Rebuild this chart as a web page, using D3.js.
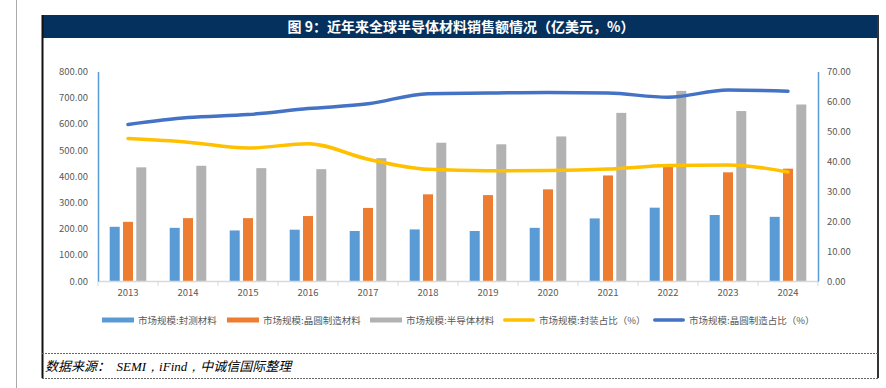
<!DOCTYPE html>
<html>
<head>
<meta charset="utf-8">
<script src="https://cdn.jsdelivr.net/npm/d3@7"></script>
<style>
  body { margin: 0; background: #fff; }
  svg text { font-family: "Noto Sans CJK SC", "DejaVu Sans", sans-serif; }
</style>
</head>
<body>
<div id="chart"></div>
<script>
var years = ["2013","2014","2015","2016","2017","2018","2019","2020","2021","2022","2023","2024"];
var packaging = [207, 203, 193, 196, 191, 197, 191, 203, 239, 280, 252, 245];
var wafer = [226, 240, 240, 248, 279, 331, 328, 350, 403, 445, 415, 429];
var total = [434, 440, 431, 427, 469, 528, 522, 552, 642, 726, 649, 674];
var packShare = [47.6, 46.4, 44.4, 45.9, 40.7, 37.3, 36.8, 36.9, 37.4, 38.6, 38.8, 36.4];
var waferShare = [52.3, 54.6, 55.6, 57.6, 59.2, 62.6, 62.8, 63.0, 62.8, 61.4, 63.8, 63.4];
var leftTicks = [0, 100, 200, 300, 400, 500, 600, 700, 800];
var rightTicks = [0, 10, 20, 30, 40, 50, 60, 70];

var title = "图 9：近年来全球半导体材料销售额情况（亿美元，%）";
var sourceParts = ["数据来源：", "  SEMI，iFind，", "中诚信国际整理"];

var W = 886, H = 388;
var svg = d3.select("#chart").append("svg")
  .attr("width", W).attr("height", H);

// page frame
svg.append("line").attr("x1", 16.5).attr("x2", 16.5).attr("y1", 0).attr("y2", H)
  .attr("stroke", "#aaa").attr("stroke-width", 1);
svg.append("rect").attr("x", 42).attr("y", 15).attr("width", 836).attr("height", 23)
  .attr("fill", "#05315f");
svg.append("line").attr("x1", 42.5).attr("x2", 42.5).attr("y1", 15).attr("y2", 378)
  .attr("stroke", "#111").attr("stroke-width", 2);
svg.append("line").attr("x1", 878).attr("x2", 878).attr("y1", 15).attr("y2", 378)
  .attr("stroke", "#333").attr("stroke-width", 2);
[353, 378].forEach(function(y) {
  svg.append("line").attr("x1", 42).attr("x2", 878).attr("y1", y + 0.5).attr("y2", y + 0.5)
    .attr("stroke", "#666").attr("stroke-width", 1).attr("stroke-dasharray", "2,1");
});
svg.append("text").attr("x", 461).attr("y", 31.5).attr("text-anchor", "middle")
  .attr("fill", "#fff").attr("font-size", 14).attr("font-weight", "bold")
  .text(title);
var src = svg.append("text").attr("x", 45).attr("y", 371).attr("fill", "#000")
  .attr("font-size", 13).attr("font-style", "italic").attr("xml:space", "preserve");
sourceParts.forEach(function(t, i) {
  src.append("tspan")
    .style("font-family", i == 1 ? "'Liberation Serif', serif" : null)
    .text(t);
});

// chart
var margin = {top: 71.5, left: 98, right: 818, bottom: 281};
var x = d3.scaleBand().domain(years).range([margin.left, margin.right]);
var y = d3.scaleLinear().domain([0, 800]).range([margin.bottom, margin.top]);
var y2 = d3.scaleLinear().domain([0, 70]).range([margin.bottom, margin.top]);

var barW = 10, step = 13.3;
var series = [
  {vals: packaging, color: "#5b9bd5", off: -1},
  {vals: wafer, color: "#ed7d31", off: 0},
  {vals: total, color: "#b2b2b2", off: 1}
];
series.forEach(function(s) {
  svg.append("g").selectAll("rect").data(s.vals).enter().append("rect")
    .attr("x", function(d, i) { return x(years[i]) + x.bandwidth() / 2 + s.off * step - barW / 2; })
    .attr("y", function(d) { return y(d); })
    .attr("width", barW)
    .attr("height", function(d) { return y(0) - y(d); })
    .attr("fill", s.color);
});

// axes
var gx = svg.append("g").attr("transform", "translate(0," + margin.bottom + ")")
  .call(d3.axisBottom(x).tickSize(0).tickPadding(8));
gx.select(".domain").attr("stroke", "#d9d9d9");
gx.selectAll("text").attr("fill", "#595959").attr("font-size", 9.5);
svg.append("g").selectAll("line").data(years.concat([""])).enter().append("line")
  .attr("x1", function(d, i) { return margin.left + i * x.step(); })
  .attr("x2", function(d, i) { return margin.left + i * x.step(); })
  .attr("y1", margin.bottom).attr("y2", margin.bottom + 5)
  .attr("stroke", "#d9d9d9");

var gl = svg.append("g").attr("transform", "translate(" + margin.left + ",0)")
  .call(d3.axisLeft(y).tickValues(leftTicks).tickSize(0).tickPadding(10)
    .tickFormat(d3.format(".2f")));
gl.select(".domain").attr("stroke", "#5b9bd5");
gl.selectAll("text").attr("fill", "#595959").attr("font-size", 9.5);

var gr = svg.append("g").attr("transform", "translate(" + margin.right + ",0)")
  .call(d3.axisRight(y2).tickValues(rightTicks).tickSize(0).tickPadding(9)
    .tickFormat(d3.format(".2f")));
gr.select(".domain").attr("stroke", "#5b9bd5");
gr.selectAll("text").attr("fill", "#595959").attr("font-size", 9.5);
svg.selectAll(".domain").attr("stroke-width", 1.5);

// lines
var line = d3.line()
  .x(function(d, i) { return x(years[i]) + x.bandwidth() / 2; })
  .y(function(d) { return y2(d); })
  .curve(d3.curveMonotoneX);
svg.append("path").datum(packShare).attr("d", line)
  .attr("fill", "none").attr("stroke", "#ffc000").attr("stroke-width", 3.5)
  .attr("stroke-linecap", "round");
svg.append("path").datum(waferShare).attr("d", line)
  .attr("fill", "none").attr("stroke", "#4472c4").attr("stroke-width", 3.5)
  .attr("stroke-linecap", "round");

// legend
var legend = [
  {name: "市场规模:封测材料", color: "#5b9bd5", x: 102, h: 5},
  {name: "市场规模:晶圆制造材料", color: "#ed7d31", x: 227, h: 5},
  {name: "市场规模:半导体材料", color: "#b2b2b2", x: 370, h: 5},
  {name: "市场规模:封装占比（%）", color: "#ffc000", x: 503, h: 3.5},
  {name: "市场规模:晶圆制造占比（%）", color: "#4472c4", x: 653, h: 3.5}
];
var lg = svg.append("g").selectAll("g").data(legend).enter().append("g")
  .attr("transform", function(d) { return "translate(" + d.x + ",320)"; });
lg.append("rect").attr("x", 0).attr("y", function(d) { return -d.h / 2; })
  .attr("width", 32).attr("height", function(d) { return d.h; })
  .attr("rx", function(d) { return d.h < 5 ? 1.75 : 0; })
  .attr("fill", function(d) { return d.color; });
lg.append("text").attr("x", 36).attr("y", 3.5).attr("font-size", 9.5)
  .attr("fill", "#595959").text(function(d) { return d.name; });
</script>
</body>
</html>
